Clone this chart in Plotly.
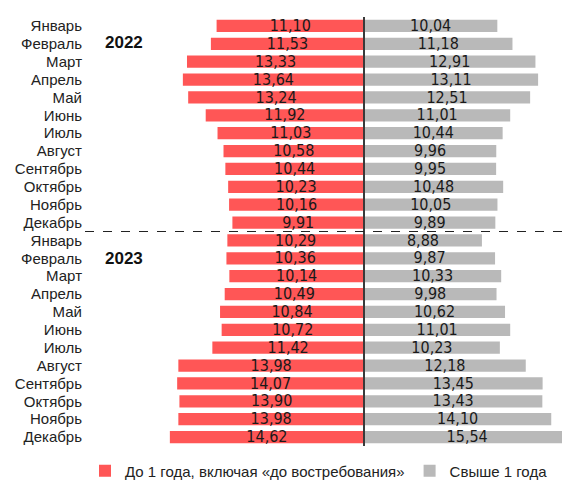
import plotly.graph_objects as go

months = ["Январь", "Февраль", "Март", "Апрель", "Май", "Июнь", "Июль",
          "Август", "Сентябрь", "Октябрь", "Ноябрь", "Декабрь"]
categories = months + months
years = ["2022", "2023"]

short_term = [11.10, 11.53, 13.33, 13.64, 13.24, 11.92, 11.03, 10.58, 10.44, 10.23, 10.16, 9.91,
              10.29, 10.36, 10.14, 10.49, 10.84, 10.72, 11.42, 13.98, 14.07, 13.90, 13.98, 14.62]
long_term = [10.04, 11.18, 12.91, 13.11, 12.51, 11.01, 10.44, 9.96, 9.95, 10.48, 10.05, 9.89,
             8.88, 9.87, 10.33, 9.98, 10.62, 11.01, 10.23, 12.18, 13.45, 13.43, 14.10, 15.54]

series_names = ["До 1 года, включая «до востребования»", "Свыше 1 года"]

RED = "#FF5656"
GRAY = "#B9B9B9"
LABEL_FONT = "Liberation Sans Narrow, Arial Narrow, DejaVu Sans Condensed, sans-serif"
MAIN_FONT = "Liberation Sans, Arial, sans-serif"

idx = list(range(len(categories)))
fmt = lambda v: f"{v:.2f}".replace(".", ",")

fig = go.Figure()
fig.add_trace(go.Bar(
    y=idx, x=[-v for v in short_term], orientation="h", name=series_names[0],
    marker=dict(color=RED, line=dict(width=0)), hoverinfo="skip"))
fig.add_trace(go.Bar(
    y=idx, x=long_term, orientation="h", name=series_names[1],
    marker=dict(color=GRAY, line=dict(width=0)), hoverinfo="skip"))

fig.add_trace(go.Scatter(
    y=[i + 0.06 for i in idx], x=[-v / 2 for v in short_term], mode="text",
    text=[fmt(v) for v in short_term], textposition="middle center",
    textfont=dict(family=LABEL_FONT, size=16, color="#1a1a1a"),
    showlegend=False, hoverinfo="skip", cliponaxis=False))
fig.add_trace(go.Scatter(
    y=[i + 0.06 for i in idx], x=[v / 2 for v in long_term], mode="text",
    text=[fmt(v) for v in long_term], textposition="middle center",
    textfont=dict(family=LABEL_FONT, size=16, color="#1a1a1a"),
    showlegend=False, hoverinfo="skip", cliponaxis=False))

# center line
fig.add_shape(type="line", xref="x", yref="paper", x0=0, x1=0, y0=0, y1=1,
              line=dict(color="#3a3a3a", width=2), layer="above")
# separator between years
fig.add_shape(type="line", xref="paper", yref="y", x0=0, x1=1, y0=11.5, y1=11.5,
              line=dict(color="#222222", width=1, dash="dash"), layer="above")

for yr, ypos in zip(years, [0.9, 13]):
    fig.add_annotation(x=-18.07, y=ypos, xref="x", yref="y", text=f"<b>{yr}</b>",
                       showarrow=False, font=dict(family=MAIN_FONT, size=17, color="#111111"))

fig.update_layout(
    width=562, height=481,
    margin=dict(l=85, r=0, t=17, b=35),
    plot_bgcolor="white", paper_bgcolor="white",
    barmode="overlay", bargap=0.31,
    xaxis=dict(range=[-21.01, 14.91], showgrid=False, zeroline=False,
               showticklabels=False, ticks="", fixedrange=True),
    yaxis=dict(range=[23.5, -0.5], tickvals=idx, ticktext=categories,
               showgrid=False, zeroline=False, ticks="", ticklabelstandoff=2,
               tickfont=dict(family=MAIN_FONT, size=15, color="#222222"), fixedrange=True),
    legend=dict(orientation="h", xref="container", yref="container",
                x=85 / 562, xanchor="left", y=10 / 481, yanchor="middle",
                font=dict(family=MAIN_FONT, size=15, color="#222222"),
                itemwidth=30, traceorder="normal"),
    showlegend=True,
)

fig.write_html("out.html", config={"displayModeBar": False},
               post_script="document.body.style.margin='0';document.body.style.overflow='hidden';")
